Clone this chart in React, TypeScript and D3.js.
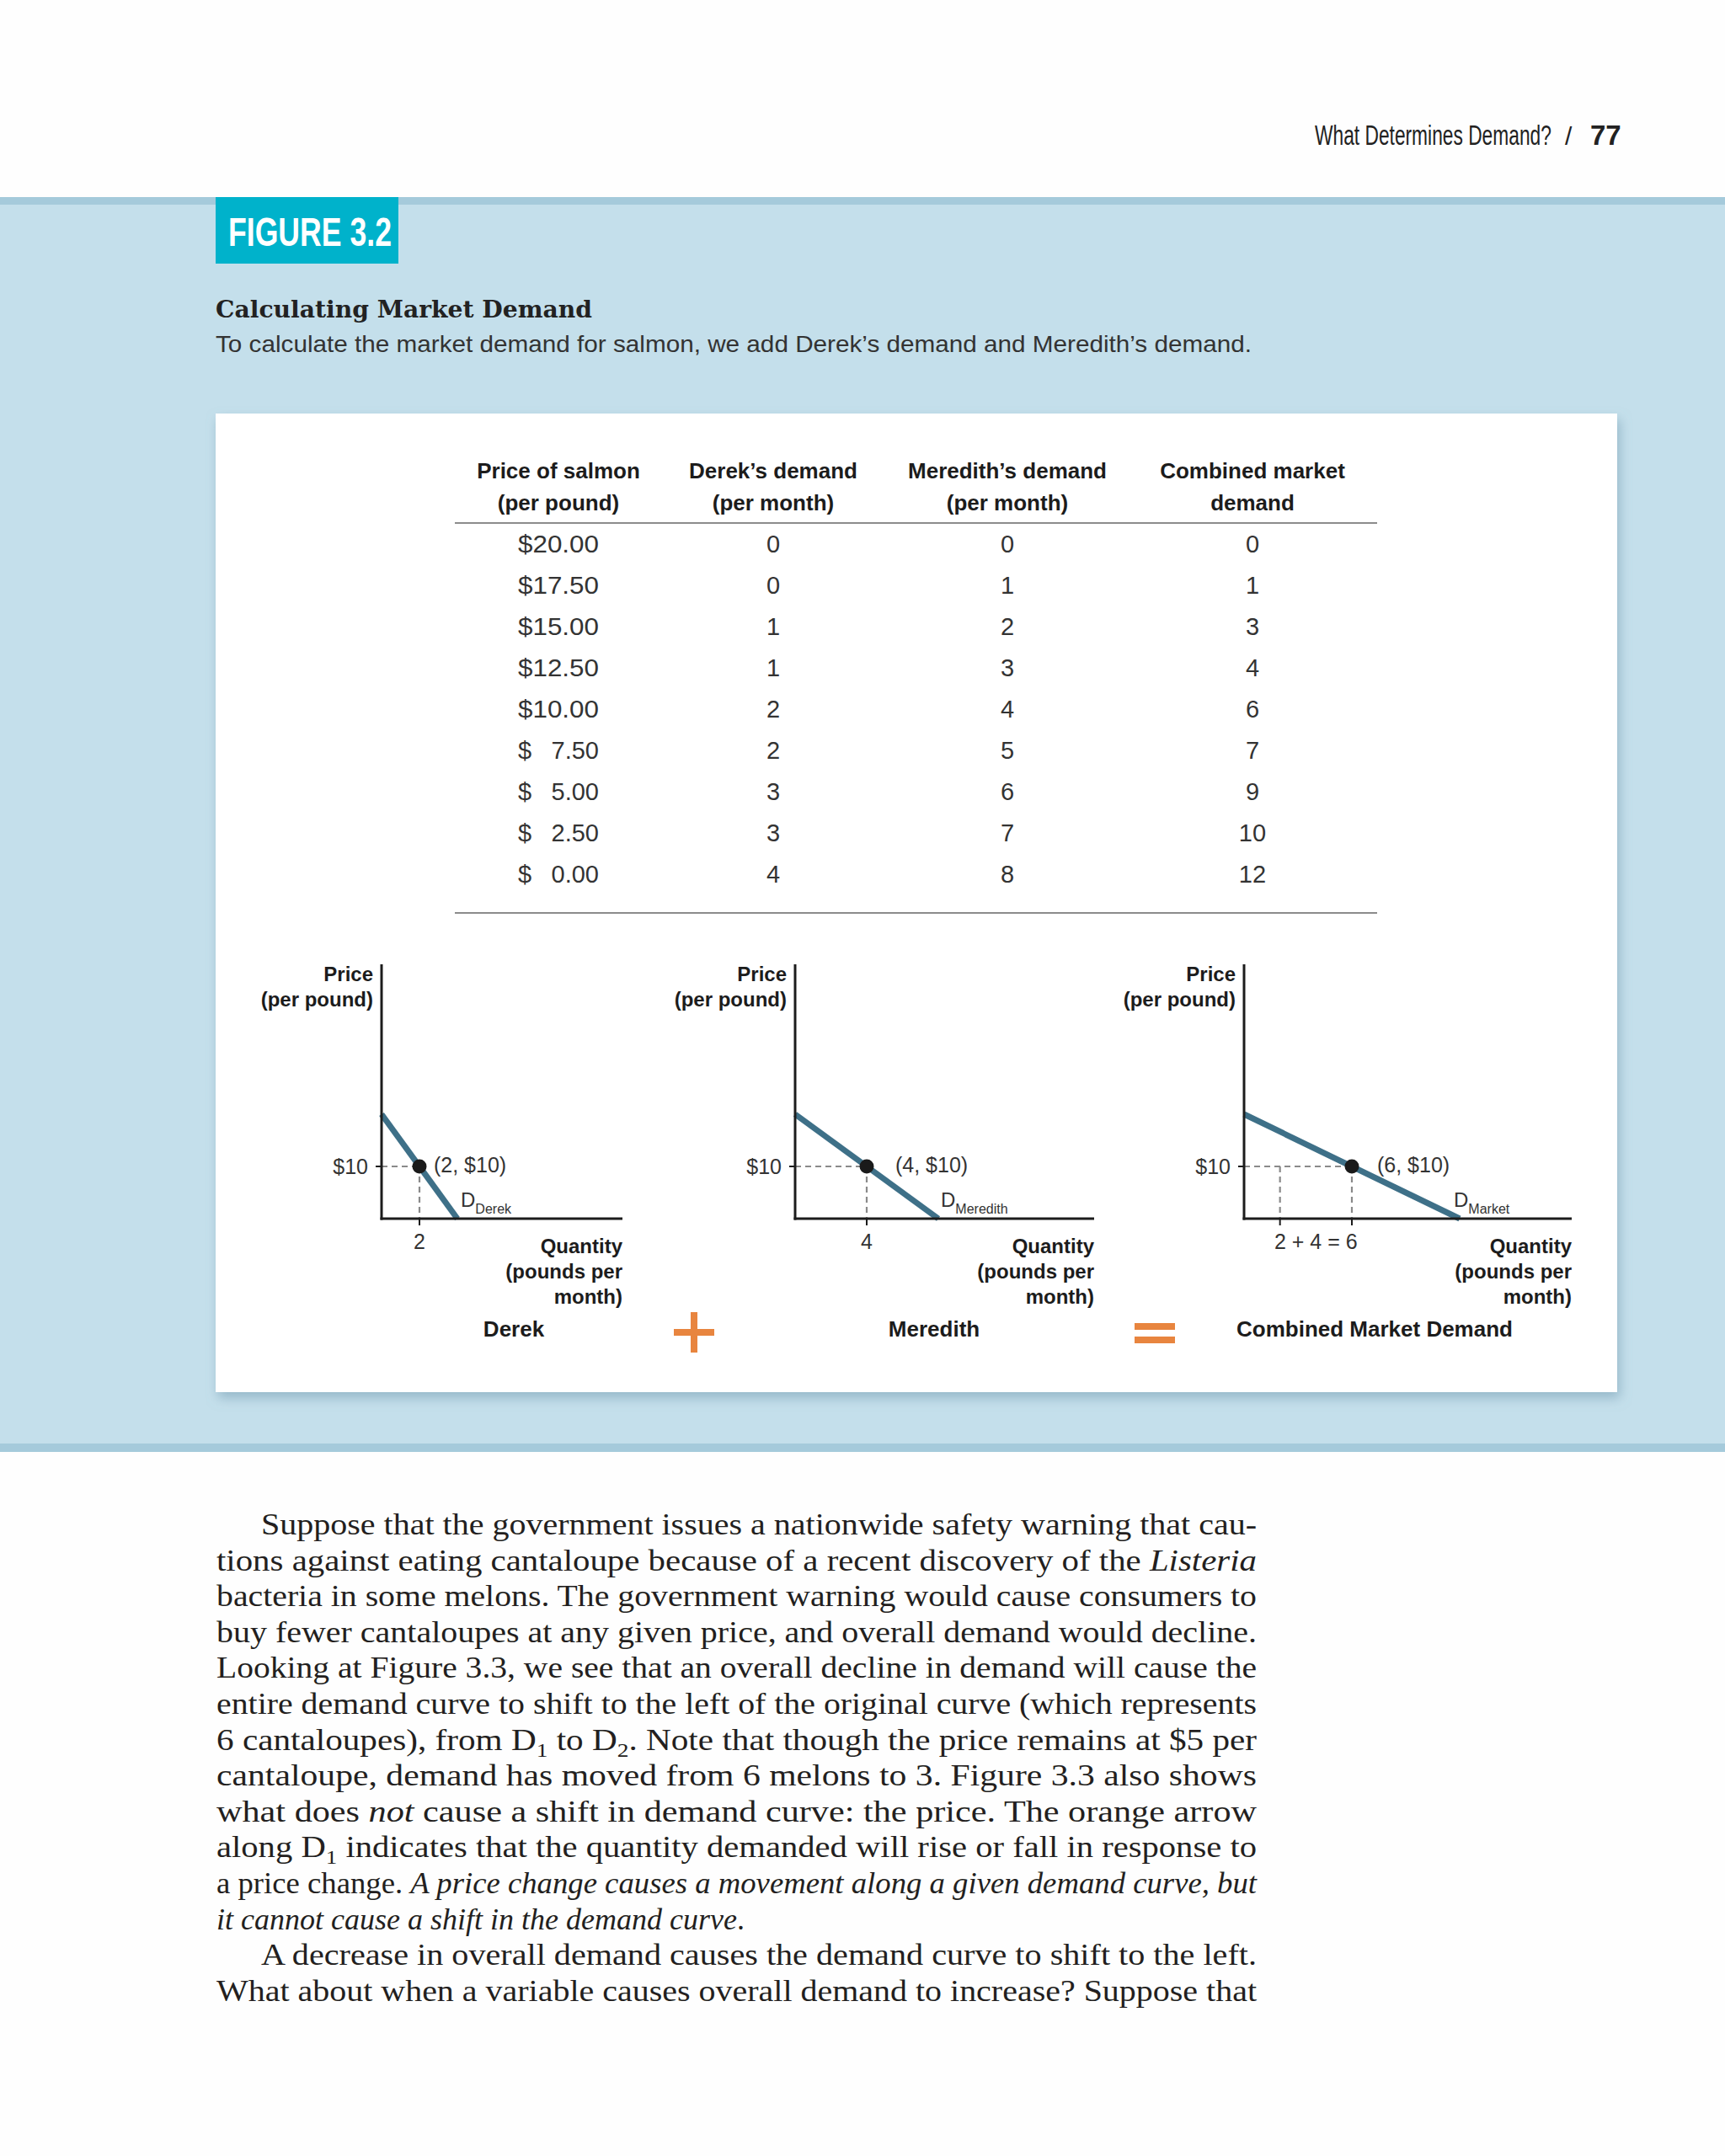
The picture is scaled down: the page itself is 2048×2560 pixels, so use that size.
import React from 'react';
import * as d3 from 'd3';

// table data (price of salmon per pound, quantities per month)
const prices = [20, 17.5, 15, 12.5, 10, 7.5, 5, 2.5, 0];
const derekDemand = [0, 0, 1, 1, 2, 2, 3, 3, 4];
const meredithDemand = [0, 1, 2, 3, 4, 5, 6, 7, 8];
const marketDemand = [0, 1, 3, 4, 6, 7, 9, 10, 12];

const tableHeaders = [
  ['Price of salmon', '(per pound)'],
  ['Derek\u2019s demand', '(per month)'],
  ['Meredith\u2019s demand', '(per month)'],
  ['Combined market', 'demand'],
];

const highlightPrice = 10;
const panelNames = ['Derek', 'Meredith', 'Combined Market Demand'];
const curveSubs = ['Derek', 'Meredith', 'Market'];
const panelSeries = [derekDemand, meredithDemand, marketDemand];

// body copy below the figure
type Seg = { t: string; i?: boolean; sub?: boolean };
const bodyLines: { segs: Seg[]; indent?: boolean; justify: boolean }[] = [
  { indent: true, justify: true, segs: [{ t: 'Suppose that the government issues a nationwide safety warning that cau-' }] },
  { justify: true, segs: [{ t: 'tions against eating cantaloupe because of a recent discovery of the ' }, { t: 'Listeria', i: true }] },
  { justify: true, segs: [{ t: 'bacteria in some melons. The government warning would cause consumers to' }] },
  { justify: true, segs: [{ t: 'buy fewer cantaloupes at any given price, and overall demand would decline.' }] },
  { justify: true, segs: [{ t: 'Looking at Figure 3.3, we see that an overall decline in demand will cause the' }] },
  { justify: true, segs: [{ t: 'entire demand curve to shift to the left of the original curve (which represents' }] },
  { justify: true, segs: [{ t: '6 cantaloupes), from D' }, { t: '1', sub: true }, { t: ' to D' }, { t: '2', sub: true }, { t: '. Note that though the price remains at $5 per' }] },
  { justify: true, segs: [{ t: 'cantaloupe, demand has moved from 6 melons to 3. Figure 3.3 also shows' }] },
  { justify: true, segs: [{ t: 'what does ' }, { t: 'not', i: true }, { t: ' cause a shift in demand curve: the price. The orange arrow' }] },
  { justify: true, segs: [{ t: 'along D' }, { t: '1', sub: true }, { t: ' indicates that the quantity demanded will rise or fall in response to' }] },
  { justify: true, segs: [{ t: 'a price change. ' }, { t: 'A price change causes a movement along a given demand curve, but', i: true }] },
  { justify: false, segs: [{ t: 'it cannot cause a shift in the demand curve', i: true }, { t: '.' }] },
  { indent: true, justify: true, segs: [{ t: 'A decrease in overall demand causes the demand curve to shift to the left.' }] },
  { justify: true, segs: [{ t: 'What about when a variable causes overall demand to increase? Suppose that' }] },
];

// layout
const W = 2048;
const H = 2560;
const SANS = '"Liberation Sans", Arial, sans-serif';
const CURVE = '#3e7088';
const ORANGE = '#e8853f';
const INK = '#1c1c1c';

const panelLayout = [
  { x0: 453, x1: 543, axisEnd: 739, nameX: 610, ptDx: 17, dDx: 4 },
  { x0: 944, x1: 1114, axisEnd: 1299, nameX: 1109, ptDx: 34, dDx: 3 },
  { x0: 1477, x1: 1733, axisEnd: 1866, nameX: 1632, ptDx: 30, dDx: -7 },
];
const axisTop = 1145;
const yScale = d3.scaleLinear().domain([0, 20]).range([1447, 1323]);

const colX = [663, 918, 1196, 1487];
const rowY = d3.scalePoint<number>().domain(d3.range(prices.length)).range([656, 1048]);
const fmtPrice = d3.format('.2f');

const Panel = ({ idx }: { idx: number }) => {
  const L = panelLayout[idx];
  const qty = panelSeries[idx];
  const x = d3.scaleLinear().domain([0, d3.max(qty) as number]).range([L.x0, L.x1]);
  const last = prices.length - 1;
  const ends = [
    { q: qty[0], p: prices[0] },
    { q: qty[last], p: prices[last] },
  ];
  const line = d3.line<{ q: number; p: number }>().x((d) => x(d.q)).y((d) => yScale(d.p));
  const hi = prices.indexOf(highlightPrice);
  const q = qty[hi];
  const px = x(q);
  const py = yScale(highlightPrice);
  const y0 = yScale(0);
  // vertical guides: for the market panel show Derek's part and the total
  const guides = idx === 2 ? [derekDemand[hi], q] : [q];
  const tickLabel =
    idx === 2 ? `${derekDemand[hi]} + ${meredithDemand[hi]} = ${q}` : `${q}`;
  const tickLabelX = idx === 2 ? (x(guides[0]) + x(guides[1])) / 2 : px;

  return (
    <g>
      {/* dashed guides */}
      <line x1={L.x0} x2={px} y1={py} y2={py} stroke="#8a8a8a" strokeWidth={2.2} strokeDasharray="7 5" />
      {guides.map((g, i) => (
        <line key={i} x1={x(g)} x2={x(g)} y1={py} y2={y0} stroke="#8a8a8a" strokeWidth={2.2} strokeDasharray="7 5" />
      ))}
      {/* ticks */}
      <line x1={L.x0 - 7} x2={L.x0} y1={py} y2={py} stroke={INK} strokeWidth={2} />
      {guides.map((g, i) => (
        <line key={i} x1={x(g)} x2={x(g)} y1={y0} y2={y0 + 8} stroke={INK} strokeWidth={2} />
      ))}
      {/* demand curve */}
      <path d={line(ends) as string} fill="none" stroke={CURVE} strokeWidth={7} />
      {/* axes */}
      <line x1={L.x0} x2={L.x0} y1={axisTop} y2={y0 + 1.5} stroke={INK} strokeWidth={3} />
      <line x1={L.x0 - 1.5} x2={L.axisEnd} y1={y0} y2={y0} stroke={INK} strokeWidth={3} />
      <circle cx={px} cy={py} r={8.5} fill="#1a1a1a" />

      <g fontFamily={SANS} fill={INK}>
        <text x={L.x0 - 10} y={1165} textAnchor="end" fontWeight="bold" fontSize={24}>Price</text>
        <text x={L.x0 - 10} y={1195} textAnchor="end" fontWeight="bold" fontSize={24}>(per pound)</text>
        <text x={L.x0 - 16} y={py + 9} textAnchor="end" fontSize={25} fill="#333">${highlightPrice}</text>
        <text x={px + L.ptDx} y={py + 7} fontSize={25} fill="#333">{`(${q}, $${highlightPrice})`}</text>
        <text x={x(d3.max(qty) as number) + L.dDx} y={1433} fontSize={24} fill="#333">
          D<tspan fontSize={16} dy={8}>{curveSubs[idx]}</tspan>
        </text>
        <text x={tickLabelX} y={1483} textAnchor="middle" fontSize={25} fill="#333">{tickLabel}</text>
        <text x={L.axisEnd} y={1488} textAnchor="end" fontWeight="bold" fontSize={24}>Quantity</text>
        <text x={L.axisEnd} y={1518} textAnchor="end" fontWeight="bold" fontSize={24}>(pounds per</text>
        <text x={L.axisEnd} y={1548} textAnchor="end" fontWeight="bold" fontSize={24}>month)</text>
        <text x={L.nameX} y={1587} textAnchor="middle" fontWeight="bold" fontSize={26}>{panelNames[idx]}</text>
      </g>
    </g>
  );
};

const App = () => {
  const bodyX = 257;
  const bodyRight = 1492;
  const bodyY = d3.scaleLinear().domain([0, 1]).range([1822, 1864.6]);

  return (
    <svg width={W} height={H} viewBox={`0 0 ${W} ${H}`} style={{ position: 'absolute', left: 0, top: 0, display: 'block' }}>
      <defs>
        <filter id="panelShadow" x="-5%" y="-5%" width="110%" height="112%">
          <feDropShadow dx={3} dy={7} stdDeviation={7} floodColor="#6f98ae" floodOpacity={0.55} />
        </filter>
      </defs>
      <rect width={W} height={H} fill="#fefefe" />

      {/* running head */}
      <g fontFamily={SANS} fill="#222">
        <text transform="translate(1561,172) scale(0.69,1)" fontSize={33}>What Determines Demand?</text>
        <text x={1858} y={172} fontSize={30}>/</text>
        <text x={1888} y={172} fontSize={33} fontWeight="bold">77</text>
      </g>

      {/* blue band */}
      <rect x={0} y={234} width={W} height={1490} fill="#c4dfeb" />
      <rect x={0} y={234} width={W} height={9} fill="#a5cadb" />
      <rect x={0} y={1714} width={W} height={10} fill="#a5cadb" />

      <rect x={256} y={234} width={217} height={79} fill="#00b2cb" />
      <text x={271} y={292} fontFamily={SANS} fontWeight="bold" fontSize={49} fill="#fff" textLength={194} lengthAdjust="spacingAndGlyphs">FIGURE 3.2</text>

      <text x={256} y={377} fontFamily='"DejaVu Serif", serif' fontWeight="bold" fontSize={28} fill="#222" textLength={447} lengthAdjust="spacingAndGlyphs">Calculating Market Demand</text>
      <text x={256} y={418} fontFamily={SANS} fontSize={28} fill="#333" textLength={1230} lengthAdjust="spacingAndGlyphs">To calculate the market demand for salmon, we add Derek’s demand and Meredith’s demand.</text>

      {/* white panel */}
      <rect x={256} y={491} width={1664} height={1162} fill="#fff" filter="url(#panelShadow)" />

      {/* table */}
      <g fontFamily={SANS}>
        {tableHeaders.map((h, i) => (
          <g key={i} fontWeight="bold" fontSize={26} fill={INK} textAnchor="middle">
            <text x={colX[i]} y={568}>{h[0]}</text>
            <text x={colX[i]} y={606}>{h[1]}</text>
          </g>
        ))}
        <line x1={540} x2={1635} y1={621} y2={621} stroke="#8c8c8c" strokeWidth={2} />
        <line x1={540} x2={1635} y1={1084} y2={1084} stroke="#8c8c8c" strokeWidth={2} />
        {prices.map((p, i) => (
          <g key={i} fontSize={29} fill="#333">
            {p >= 10 ? (
              <text x={615} y={rowY(i)} textLength={96} lengthAdjust="spacingAndGlyphs">{`$${fmtPrice(p)}`}</text>
            ) : (
              <>
                <text x={615} y={rowY(i)}>$</text>
                <text x={711} y={rowY(i)} textAnchor="end">{fmtPrice(p)}</text>
              </>
            )}
            <text x={colX[1]} y={rowY(i)} textAnchor="middle">{derekDemand[i]}</text>
            <text x={colX[2]} y={rowY(i)} textAnchor="middle">{meredithDemand[i]}</text>
            <text x={colX[3]} y={rowY(i)} textAnchor="middle">{marketDemand[i]}</text>
          </g>
        ))}
      </g>

      {/* graphs */}
      {panelSeries.map((_, i) => (
        <Panel key={i} idx={i} />
      ))}

      {/* plus and equals */}
      <rect x={800} y={1578} width={48} height={8} fill={ORANGE} />
      <rect x={820} y={1558} width={8} height={48} fill={ORANGE} />
      <rect x={1347} y={1571} width={48} height={8} fill={ORANGE} />
      <rect x={1347} y={1587} width={48} height={8} fill={ORANGE} />

      {/* body text */}
      <g fontFamily='"Liberation Serif", "Times New Roman", serif' fontSize={36} fill="#231f20">
        {bodyLines.map((ln, i) => {
          const x0 = ln.indent ? bodyX + 53 : bodyX;
          return (
            <text
              key={i}
              x={x0}
              y={bodyY(i)}
              textLength={ln.justify ? bodyRight - x0 : undefined}
              lengthAdjust={ln.justify ? 'spacingAndGlyphs' : undefined}
            >
              {ln.segs.map((s, j) => (
                <tspan
                  key={j}
                  fontStyle={s.i ? 'italic' : undefined}
                  fontSize={s.sub ? 24 : undefined}
                  baselineShift={s.sub ? -8 : undefined}
                >
                  {s.t}
                </tspan>
              ))}
            </text>
          );
        })}
      </g>
    </svg>
  );
};

export default App;
